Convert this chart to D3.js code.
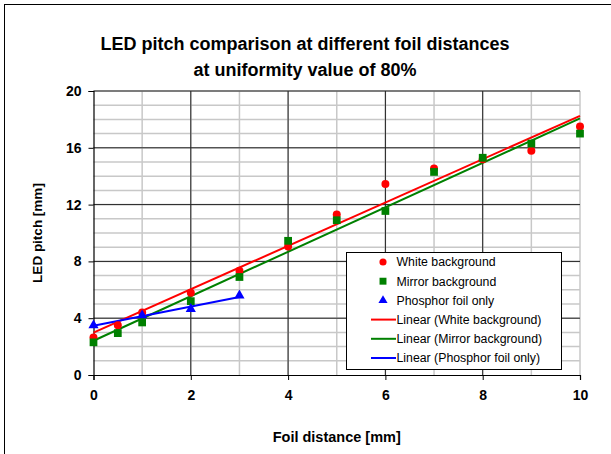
<!DOCTYPE html>
<html>
<head>
<meta charset="utf-8">
<title>LED pitch comparison</title>
<script src="https://cdn.jsdelivr.net/npm/d3@7"></script>
<style>
  body { margin: 0; background: #fff; }
  svg text { font-family: "Liberation Sans", Arial, sans-serif; }
</style>
</head>
<body>
<div id="chart"></div>
<script>
// data
var whiteX = [0, 0.5, 1, 2, 3, 4, 5, 6, 7, 8, 9, 10];
var whiteY = [2.65, 3.5, 4.4, 5.8, 7.35, 9.05, 11.3, 13.45, 14.55, 15.2, 15.8, 17.5];
var mirrorX = [0, 0.5, 1, 2, 3, 4, 5, 6, 7, 8, 9, 10];
var mirrorY = [2.3, 2.95, 3.7, 5.2, 6.9, 9.45, 10.9, 11.55, 14.3, 15.3, 16.3, 17.0];
var phosphorX = [0, 1, 2, 3];
var phosphorY = [3.5, 4.2, 4.65, 5.6];
var xTicks = [0, 2, 4, 6, 8, 10];
var yTicks = [0, 4, 8, 12, 16, 20];
var legendLabels = ["White background", "Mirror background", "Phosphor foil only",
  "Linear (White background)", "Linear (Mirror background)", "Linear (Phosphor foil only)"];

var W = 611, H = 454;
var margin = {left: 93.5, top: 91, right: 31, bottom: 79};
var width = W - margin.left - margin.right;
var height = H - margin.top - margin.bottom;

var svg = d3.select("#chart").append("svg")
  .attr("width", W).attr("height", H);

// outer chart frame
svg.append("rect")
  .attr("x", 4.5).attr("y", 4.5)
  .attr("width", W + 10).attr("height", H + 10)
  .attr("fill", "#fff").attr("stroke", "#000").attr("stroke-width", 1);

var x = d3.scaleLinear().domain([0, 10]).range([0, width]);
var y = d3.scaleLinear().domain([0, 20]).range([height, 0]);

var g = svg.append("g").attr("transform", "translate(" + margin.left + "," + margin.top + ")");

// minor grid
g.selectAll(".vminor").data(d3.range(1, 11)).enter().append("line")
  .attr("x1", d => x(d)).attr("x2", d => x(d)).attr("y1", 0).attr("y2", height)
  .attr("stroke", "#c8c8c8").attr("stroke-width", 1.5);
g.selectAll(".hminor").data(d3.range(1, 21)).enter().append("line")
  .attr("x1", 0).attr("x2", width).attr("y1", d => y(d)).attr("y2", d => y(d))
  .attr("stroke", "#c8c8c8").attr("stroke-width", 1.5);

// major grid
g.selectAll(".vmajor").data(xTicks.filter(d => d > 0 && d < 10)).enter().append("line")
  .attr("x1", d => x(d)).attr("x2", d => x(d)).attr("y1", 0).attr("y2", height)
  .attr("stroke", "#222").attr("stroke-width", 1);
g.selectAll(".hmajor").data(yTicks.filter(d => d > 0)).enter().append("line")
  .attr("x1", 0).attr("x2", width).attr("y1", d => y(d)).attr("y2", d => y(d))
  .attr("stroke", "#222").attr("stroke-width", 1);

// axes
var xAxis = d3.axisBottom(x).tickValues(xTicks).tickSize(5).tickPadding(7);
var yAxis = d3.axisLeft(y).tickValues(yTicks).tickSize(5).tickPadding(7);

var gx = g.append("g").attr("transform", "translate(0," + height + ")").call(xAxis);
var gy = g.append("g").call(yAxis);
[gx, gy].forEach(function(a) {
  a.select(".domain").attr("stroke", "#000").attr("stroke-width", 1.2);
  a.selectAll(".tick line").attr("stroke", "#000");
  a.selectAll(".tick text").attr("font-size", 14).attr("font-weight", "bold")
    .attr("fill", "#000").style("font-family", "'Liberation Sans', Arial, sans-serif");
});
gx.selectAll(".tick text").attr("dy", "0.95em");

// linear trendlines (least squares on the data)
function fit(xs, ys) {
  var mx = d3.mean(xs), my = d3.mean(ys), sxy = 0, sxx = 0;
  for (var i = 0; i < xs.length; i++) {
    sxy += (xs[i] - mx) * (ys[i] - my);
    sxx += (xs[i] - mx) * (xs[i] - mx);
  }
  var b = sxy / sxx;
  return {a: my - b * mx, b: b};
}

var line = d3.line().x(d => x(d[0])).y(d => y(d[1]));

var series = [
  {xs: whiteX, ys: whiteY, color: "#ff0000", sym: d3.symbolCircle, size: 50},
  {xs: mirrorX, ys: mirrorY, color: "#008000", sym: d3.symbolSquare, size: 60},
  {xs: phosphorX, ys: phosphorY, color: "#0000ff", sym: d3.symbolTriangle, size: 45}
];

series.forEach(function(s) {
  var f = fit(s.xs, s.ys);
  var x0 = d3.min(s.xs), x1 = d3.max(s.xs);
  g.append("path")
    .datum([[x0, f.a + f.b * x0], [x1, f.a + f.b * x1]])
    .attr("fill", "none")
    .attr("stroke", s.color)
    .attr("stroke-width", 2)
    .attr("d", line);
});

series.forEach(function(s) {
  g.selectAll(null).data(d3.zip(s.xs, s.ys)).enter().append("path")
    .attr("transform", d => "translate(" + x(d[0]) + "," + y(d[1]) + ")")
    .attr("d", d3.symbol().type(s.sym).size(s.size))
    .attr("fill", s.color);
});

// legend
var lg = svg.append("g").attr("transform", "translate(346,252)");
lg.append("rect").attr("x", 0.5).attr("y", 0.5).attr("width", 215).attr("height", 117)
  .attr("fill", "#fff").attr("stroke", "#000").attr("stroke-width", 1);
legendLabels.forEach(function(t, i) {
  var ry = 10 + i * 19.2;
  if (i < 3) {
    var s = series[i];
    lg.append("path")
      .attr("transform", "translate(37," + ry + ")")
      .attr("d", d3.symbol().type(s.sym).size(s.size * 0.8))
      .attr("fill", s.color);
  } else {
    lg.append("line").attr("x1", 25).attr("x2", 50).attr("y1", ry).attr("y2", ry)
      .attr("stroke", series[i - 3].color).attr("stroke-width", 2);
  }
  lg.append("text").attr("x", 50.5).attr("y", ry).attr("dy", "0.35em")
    .attr("font-size", 12.3).attr("fill", "#000").text(t);
});

// titles
svg.append("text").attr("x", 305).attr("y", 50).attr("text-anchor", "middle")
  .attr("font-size", 18).attr("font-weight", "bold")
  .text("LED pitch comparison at different foil distances");
svg.append("text").attr("x", 305).attr("y", 76).attr("text-anchor", "middle")
  .attr("font-size", 18).attr("font-weight", "bold")
  .text("at uniformity value of 80%");
svg.append("text").attr("x", margin.left + width / 2).attr("y", 442).attr("text-anchor", "middle")
  .attr("font-size", 14.5).attr("font-weight", "bold")
  .text("Foil distance [mm]");
svg.append("text")
  .attr("transform", "translate(42," + (margin.top + height / 2) + ") rotate(-90)")
  .attr("text-anchor", "middle")
  .attr("font-size", 13.5).attr("font-weight", "bold")
  .text("LED pitch [mm]");
</script>
</body>
</html>
